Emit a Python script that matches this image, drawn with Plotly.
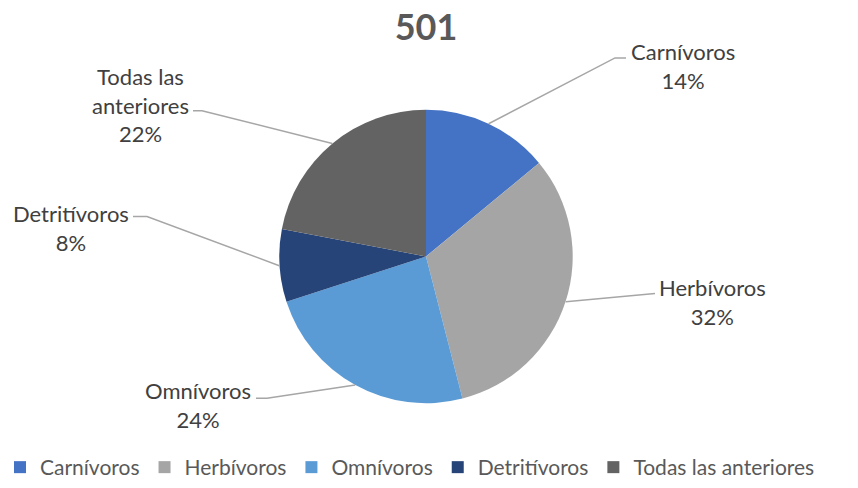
import math
import plotly.graph_objects as go

# ---- data ----
categories = ["Carnívoros", "Herbívoros", "Omnívoros", "Detritívoros", "Todas las anteriores"]
values = [14, 32, 24, 8, 22]
label_texts = ["Carnívoros<br>14%", "Herbívoros<br>32%", "Omnívoros<br>24%",
               "Detritívoros<br>8%", "Todas las<br>anteriores<br>22%"]
colors = ["#4472C4", "#A5A5A5", "#5B9BD5", "#264478", "#636363"]
title_text = "501"

# ---- layout constants (pixels) ----
W, H = 858, 488
CX, CY, R = 426, 257, 147
FONT = "Lato"

# label placement (centre of text block) and leader elbow / end near the text
label_pos = [(683, 66), (712, 303), (198, 406), (71, 228), (140, 105)]
leader_near = [
    [(615, 58), (626, 58)],
    [(655, 294)],
    [(267, 399), (256, 399)],
    [(147, 217), (133, 217)],
    [(202, 111), (193, 111)],
]

def px(x):
    return x / W

def py(y):
    return 1 - y / H

fig = go.Figure(go.Pie(
    labels=categories,
    values=values,
    sort=False,
    direction="clockwise",
    rotation=0,
    marker=dict(colors=colors, line=dict(width=0)),
    textinfo="none",
    domain=dict(x=[px(CX - R), px(CX + R)], y=[py(CY + R), py(CY - R)]),
    hovertemplate="%{label}: %{percent}<extra></extra>",
))

# leader lines from slice mid-angles (computed from values)
total = sum(values)
cum = 0
shapes = []
annotations = []
for i, v in enumerate(values):
    mid = (cum + v / 2) / total * 2 * math.pi
    cum += v
    ex = CX + R * math.sin(mid)
    ey = CY - R * math.cos(mid)
    pts = [(ex, ey)] + leader_near[i]
    path = "M {} {}".format(px(pts[0][0]), py(pts[0][1]))
    for (x, y) in pts[1:]:
        path += " L {} {}".format(px(x), py(y))
    shapes.append(dict(type="path", xref="paper", yref="paper", path=path,
                       line=dict(color="#A6A6A6", width=1.5)))
    lx, ly = label_pos[i]
    annotations.append(dict(x=px(lx), y=py(ly), xref="paper", yref="paper",
                            text=label_texts[i], showarrow=False,
                            xanchor="center", yanchor="middle", align="center",
                            font=dict(family=FONT, size=22, color="#404040")))

fig.update_layout(
    width=W, height=H,
    margin=dict(l=0, r=0, t=0, b=0),
    paper_bgcolor="white", plot_bgcolor="white",
    title=dict(text="<b>%s</b>" % title_text, x=px(CX), xanchor="center",
               y=py(27), yanchor="middle",
               font=dict(family=FONT, size=36, color="#595959")),
    shapes=shapes,
    annotations=annotations,
    showlegend=True,
    legend=dict(orientation="h", x=0, xanchor="left", y=py(468), yanchor="middle",
                font=dict(family=FONT, size=21, color="#595959"),
                itemclick=False, itemdoubleclick=False, traceorder="normal"),
)

fig.write_html("out.html")
